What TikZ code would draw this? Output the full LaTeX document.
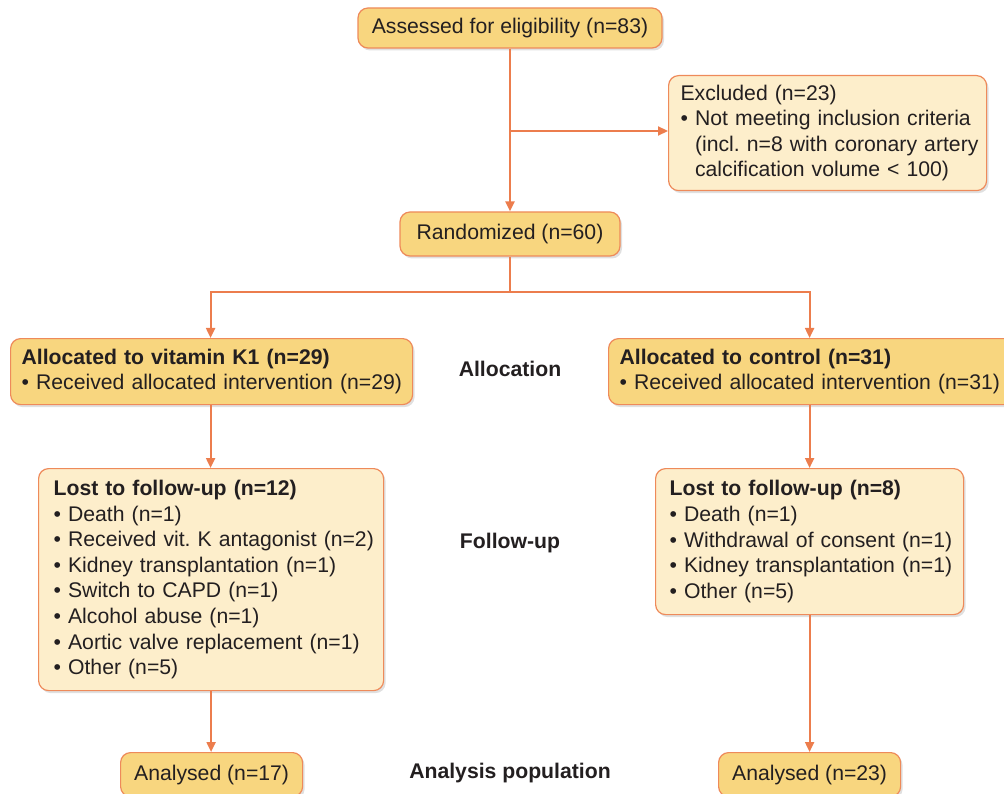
\documentclass[tikz,border=0pt]{standalone}
\usepackage{fontspec}
\setmainfont{Liberation Sans}
\usepackage{tikz}
\usetikzlibrary{arrows.meta,positioning,shadows}
\definecolor{boxorange}{HTML}{EE8A5A}
\definecolor{linkorange}{HTML}{EC7D4D}
\definecolor{darkfill}{HTML}{F8D67F}
\definecolor{lightfill}{HTML}{FDEECB}
\definecolor{inktext}{HTML}{231F20}
\newcommand{\flowfont}{\fontsize{21.2}{25.6}\selectfont\frenchspacing}
\newcommand{\bulletline}[1]{\mbox{\textbullet{} #1}}
\newcommand{\hangline}[1]{\mbox{\hphantom{\textbullet{} }#1}}

\tikzset{
    basebox/.style={draw=boxorange, line width=1.2pt, rounded corners=10pt,
        text=inktext, inner xsep=12pt, inner ysep=0pt,
        drop shadow={shadow xshift=2pt, shadow yshift=-2.5pt, opacity=0.35, fill=gray!70}},
    darkbox/.style={basebox, fill=darkfill},
    lightbox/.style={basebox, fill=lightfill},
    stagelabel/.style={font=\flowfont\bfseries, text=inktext},
    link/.style={draw=linkorange, line width=2.2pt},
    arrowlink/.style={link, -{Triangle[length=10pt, width=9pt]}}
}

\begin{document}
\begin{tikzpicture}[x=1pt, y=-1pt, font=\flowfont]
    \useasboundingbox (0, 0) rectangle (1004, 794);

    % Top of the flow
    \node[darkbox, minimum width=304pt, minimum height=40pt] (assess) at (510, 28) {Assessed for eligibility (n=83)};
    \node[lightbox, anchor=north west, minimum width=318pt, minimum height=115pt,
          text width=294pt, align=left] (excl) at (668, 75)
        {\mbox{Excluded (n=23)}\\
         \bulletline{Not meeting inclusion criteria}\\
         \hangline{(incl. n=8 with coronary artery}\\
         \hangline{calcification volume < 100)}};
    \node[darkbox, minimum width=220pt, minimum height=44pt] (rand) at (510, 234) {Randomized (n=60)};
    \coordinate (exclsplit) at (510, 131);
    \coordinate (randsplit) at (510, 292);

    % Allocation
    \node[darkbox, anchor=north west, minimum width=402pt, minimum height=66pt,
          text width=380pt, inner xsep=11pt, align=left] (allocA) at (10, 338)
        {\mbox{\textbf{Allocated to vitamin K1 (n=29)}}\\
         \bulletline{Received allocated intervention (n=29)}};
    \node[darkbox, anchor=north west, minimum width=410pt, minimum height=66pt,
          text width=388pt, inner xsep=11pt, align=left] (allocB) at (608, 338)
        {\mbox{\textbf{Allocated to control (n=31)}}\\
         \bulletline{Received allocated intervention (n=31)}};
    \node[stagelabel] (allocation) at (510, 369) {Allocation};

    % Follow-up
    \node[lightbox, anchor=north west, minimum width=345pt, minimum height=222pt,
          text width=315pt, inner xsep=15pt, align=left] (lostA) at (38, 468)
        {\mbox{\textbf{Lost to follow-up (n=12)}}\\
         \bulletline{Death (n=1)}\\
         \bulletline{Received vit. K antagonist (n=2)}\\
         \bulletline{Kidney transplantation (n=1)}\\
         \bulletline{Switch to CAPD (n=1)}\\
         \bulletline{Alcohol abuse (n=1)}\\
         \bulletline{Aortic valve replacement (n=1)}\\
         \bulletline{Other (n=5)}};
    \node[lightbox, anchor=north west, minimum width=308pt, minimum height=146pt,
          text width=280pt, inner xsep=14pt, align=left] (lostB) at (655, 468)
        {\mbox{\textbf{Lost to follow-up (n=8)}}\\
         \bulletline{Death (n=1)}\\
         \bulletline{Withdrawal of consent (n=1)}\\
         \bulletline{Kidney transplantation (n=1)}\\
         \bulletline{Other (n=5)}};
    \node[stagelabel] (followup) at (510, 543) {Follow-up};

    % Analysis
    \node[darkbox, anchor=north west, minimum width=182pt, minimum height=44pt] (anaA) at (120, 752) {Analysed (n=17)};
    \node[darkbox, anchor=north west, minimum width=182pt, minimum height=44pt] (anaB) at (718, 752) {Analysed (n=23)};
    \node[stagelabel] (analysis) at (510, 773) {Analysis population};

    % Connectors
    \draw[arrowlink] (assess.south) -- (rand.north);
    \draw[arrowlink] (exclsplit) -- (excl.west |- exclsplit);
    \draw[link] (rand.south) -- (randsplit);
    \draw[arrowlink] (randsplit) -| ([xshift=-1pt]allocA.north);
    \draw[arrowlink] (randsplit) -| (lostB.north |- allocB.north);
    \draw[arrowlink] ([xshift=-1pt]allocA.south) -- ([xshift=-1pt]allocA.south |- lostA.north);
    \draw[arrowlink] (lostB.north |- allocB.south) -- (lostB.north);
    \draw[arrowlink] (lostA.south) -- (lostA.south |- anaA.north);
    \draw[arrowlink] (lostB.south) -- (lostB.south |- anaB.north);
\end{tikzpicture}
\end{document}
